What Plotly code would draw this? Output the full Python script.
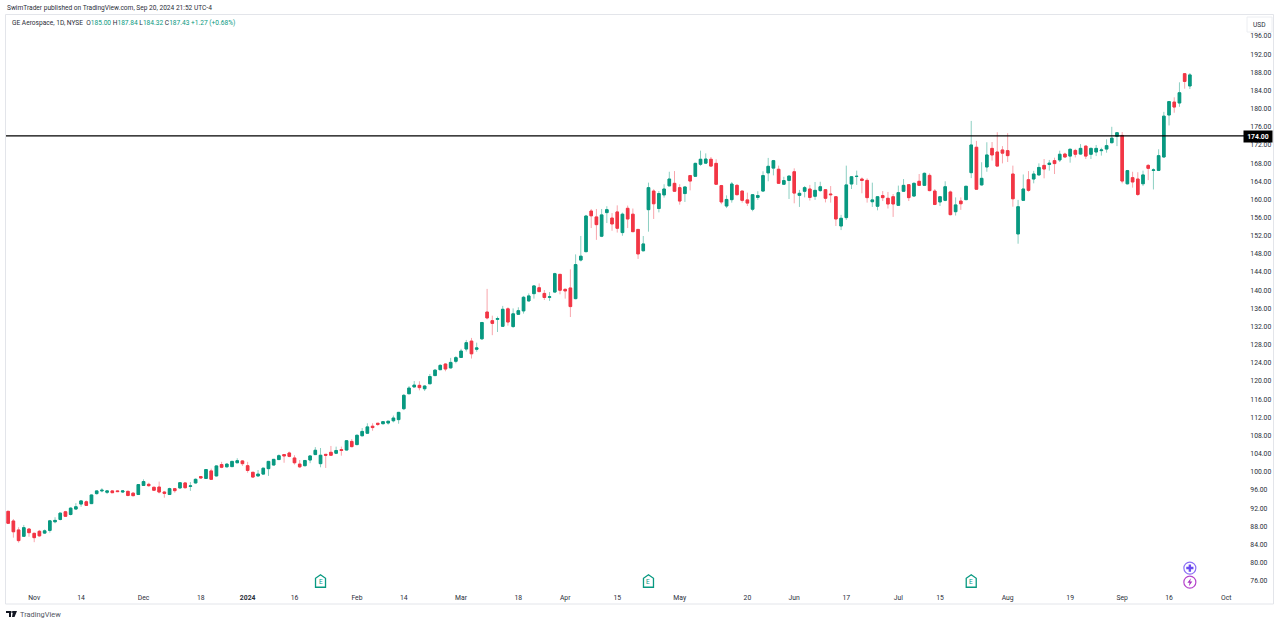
import plotly.graph_objects as go

GREEN = "#089981"
RED = "#F23645"
GREEN_WICK = "#8ccfc2"
RED_WICK = "#f8a5ac"

opens = [91.3,89.17,87.2,85.8,87.4,86.45,86.9,86.5,87.1,89,89.5,91.2,90.6,91.8,92.9,93.4,93,95.2,95.8,95.5,
 95.8,95.8,95.55,95.7,95.3,95,97,97.25,96.6,96.65,95.55,95,96.3,96.45,97.55,96.8,97.55,98.95,98.55,100.2,
 99.1,101.6,101.1,101.15,102,102.4,101.35,99.9,99.1,99.5,100.7,101.5,102.7,103.8,104.15,103.05,101.7,101.35,102.6,103.8,
 101.8,103.85,104.3,104.1,104.9,104.8,106.7,106,107.95,108.5,110.05,110.7,110.6,110.75,111.25,111.5,113.9,117.2,118.7,119.05,
 118.3,119.4,121.2,122.5,123.75,122.9,124.35,125.2,127.05,128.8,127,129.3,135.2,133.3,133.6,132.05,135.9,132,134.7,135.45,
 137.65,139.25,140.55,139.3,138.45,139.6,143.5,140.2,140.5,138.15,146.65,148.5,157.45,156.15,151.9,157.1,155.9,157.25,152.7,158.05,
 156.75,153.4,148.7,157.75,161.85,158,161,163,163.55,162.6,161.3,165.25,165.1,167.75,168,168.85,167.95,163.05,158.55,159.95,
 163.1,161.85,159.9,157.85,160.45,161.85,165.85,166.9,166.65,163.35,164.2,166.1,160.9,161.8,162.3,160.7,161.95,162.15,161.2,160.6,
 154.15,156,163.4,165.05,164.5,164.2,159.5,158.5,160.85,160.25,160.6,158.7,161.8,163.25,160.75,164,163.1,165.3,161.85,159.45,
 159.8,161.65,157.3,159.65,159.95,165.9,171.5,163.2,167.15,171.25,170.45,170.9,170.75,165.6,152.4,159.8,164.35,164.5,165.4,167.5,
 167.7,168.55,168.7,170,169.55,170.8,170,171.75,169.95,170.45,170.75,171.1,172.5,173.9,174.1,163.45,164.8,164.5,163.45,167.5,
 166.4,166.4,169.35,178.6,181.45,181.25,187.7,185]
highs = [91.4,89.6,87.8,88.3,87.6,86.6,87.2,87.3,89.4,90,91,91.4,92.2,93.1,93.8,93.7,95,95.85,96.4,95.95,
 95.95,95.9,95.95,95.85,95.55,97.3,98.35,97.6,96.7,97.85,95.8,96.5,96.45,97.75,97.75,97.75,98.55,99.05,100.6,100.7,
 101.4,102.2,101.9,102.35,103,102.6,102.2,99.95,100.4,100.9,102.4,102.8,103.85,103.9,104.45,103.65,102.6,102.6,103.65,105.45,
 105.25,103.9,105.7,105.55,105.55,107,107.2,108.2,109.65,110.7,110.7,110.75,111.2,111.2,112.4,113.2,117.15,118.9,120,119.95,
 119.05,121.55,122.6,123.7,123.9,125.1,125.5,127.1,129.05,129.5,128.45,133,140.3,134.4,134.2,136.55,136.25,136,136.25,138.75,
 139.3,141.15,141.5,140.05,139.6,143.85,143.55,140.4,144.6,147.9,151.95,156.6,157.9,157.9,157.9,158.5,157,158.7,157.1,158.65,
 158,153.4,151.95,163.7,162.25,161.85,163.35,166.1,166.25,163.35,162.8,165.4,168.1,170.75,170.15,169.35,168.85,163.2,160.9,163.85,
 163.4,161.85,161.5,161.2,161.8,166.2,169.15,168.7,167.45,165,165.2,166.85,162.1,162.95,163.2,163.85,163.9,162.25,162.95,160.75,
 156.6,167.45,165.15,166.35,164.85,164.65,163.7,160.75,161.85,161.65,161.2,163.05,164.5,163.4,163.75,165.6,165.95,165.75,162.3,160.75,
 164,161.95,160.45,160.45,162.95,177.3,172.9,168.2,172.6,172.65,174.8,171.75,174.6,167.45,159.9,165.5,166.25,166.3,167.95,168.9,
 168.7,169.2,170.75,170.3,171.2,171.15,172.2,171.9,171.45,172,171.4,173.25,176,174.85,174.85,166.5,166.1,166,166.35,167.8,
 166.85,171.05,179.3,181.7,182.5,185.8,187.85,187.84]
lows = [88.6,85.5,84.4,85.7,85.7,84.5,85.7,86.3,86.6,88.66,89.3,90.05,90.4,91.7,92.3,92.5,92.9,95,95.5,95.1,
 95.35,95.55,95.35,94.6,94.6,94.9,96.95,96.7,95.85,95.25,94.3,94.9,95.4,96.3,96.35,95.8,97.4,98.5,98.5,98.2,
 99,100.8,101,101.1,101.9,101.3,99.8,98.65,98.9,99.45,99.1,101.4,102.6,102,103.2,101.6,100.85,101.2,101.9,103.7,
 101,100.85,103.5,103.9,103.55,104.75,105.4,105.85,107.8,108.35,109.05,110.1,110.45,110.4,110.9,110.6,113.6,117.15,118.6,117.95,
 117.8,119.35,121.1,122.45,122.15,122.75,123.9,125.1,126.5,124.95,126.45,129.05,133.6,130.1,130.8,131.9,132.2,131.7,134.55,134.85,
 137.5,138.15,139.55,137.85,137.65,139.45,139.1,138.15,134.1,138,146.35,148.35,153.7,151.1,151.7,154.8,153.1,152.7,152,153.7,
 152.85,146.9,148.55,152.9,155.7,157.15,160.4,162.9,161.65,158.85,159.45,162,164.95,167.4,167.95,167.2,163.2,158.95,158.1,159.3,
 160.9,159.3,158.55,157.4,159.9,161.7,164,165.3,163.4,163.25,160.1,159.15,158.35,160.45,159.75,159.9,161.7,159.35,159.3,154.15,
 153.25,155.5,162.3,163.2,161.35,159.3,158.35,157.6,159.65,158,156.15,158.55,161.65,159.65,160.6,162.95,162.95,161.8,158.75,158.55,
 159.6,156.5,156.45,157.7,159.9,164.7,162.1,163.05,166.1,168.55,167.35,167.95,168.25,158.4,150.25,159.7,161.7,163.55,165.25,164.65,
 166.35,165.6,168.25,169.2,168.1,169.25,169.85,168.9,168.9,169.55,169.65,170.3,172.35,171.75,163.55,163.3,162.6,160.75,162.95,164.25,
 162.2,166.25,169.2,176.3,179.1,180.4,184.4,184.32]
closes = [88.66,86.8,84.85,87.7,86.6,85.5,85.9,87,89.2,89.3,90.9,90.2,92,92.3,93.6,92.6,94.9,95.8,95.95,95.8,
 95.4,95.65,95.8,94.8,94.75,97.2,97.85,96.95,95.95,95.55,95.25,96.3,95.85,97.6,96.5,96.9,98.35,98.65,100.5,98.35,
 101.3,101,101.7,102.3,102.45,101.8,100.3,98.85,99.5,100.8,102.3,102.75,103.55,103.5,103.4,102,101.1,102.5,103.5,104.75,
 103.65,103.65,103.65,104.7,104.7,106.85,105.55,108.05,108.9,109.9,109.75,110.45,111.05,111.15,111.85,113.1,116.85,118.45,119.1,118.55,
 118.9,121,122.4,123.45,122.65,124.1,125.15,126.6,128.45,126,127.3,132.9,133.9,132.7,133.75,135.8,133,134.8,135.5,138.45,
 138.75,140.95,139.7,138.4,138.55,143.65,140,139.85,136.4,145.65,147.5,156.35,156.4,154.45,156.6,157.75,154.6,153.65,156.75,155.7,
 152.9,148,150.2,162.6,159.05,161.3,162.3,164.5,161.8,159.65,162.75,164.05,167.95,168.85,168.9,167.35,163.35,159.45,160,163.4,
 161.05,159.8,159.2,161.05,160.85,165.25,167.3,168.55,163.55,164.15,165.15,161.4,161.35,162.6,160.45,162,162.8,160.25,161.05,155.7,
 155.85,163.2,165,165.1,164.2,160.4,159.9,160.6,160.4,159,159,161.5,163.1,160.4,163.55,163.1,165.75,161.95,158.9,160.6,
 162.8,156.65,158.8,159.05,162.9,172,162.25,164.65,169.8,169.8,167.35,170.2,169.65,160.15,158.4,162.3,162,165.6,167.05,166.7,
 168,167.9,169.95,169.35,171.05,169.95,171.25,169.55,171.25,171.25,170.9,171.85,173.5,174.7,164.05,166.35,163.85,161.1,165.4,166.85,
 166.5,169.65,178.35,181.55,180.35,183.5,186,187.43]

tick_positions = [5,14,26,37,46,55,67,76,87,98,107,117,129,142,151,161,171,179,192,204,214,223,234]
tick_labels = ["Nov","14","Dec","18","<b>2024</b>","16","Feb","14","Mar","18","Apr","15","May","20","Jun","17","Jul","15","Aug","19","Sep","16","Oct"]
price_ticks = list(range(76, 197, 4))
level_price = 174.0
earnings_positions = [60, 123, 185]
earnings_price = 75.9
last_index = 227

W, H = 1280, 624
ML, MR, MT, MB = 6, 36, 15, 36
PW, PH = W - ML - MR, H - MT - MB

def px(x):
    return (x - ML) / PW

def py(y):
    return (H - MB - y) / PH

idx = list(range(len(opens)))
body_hi = [max(o, c) for o, c in zip(opens, closes)]
body_lo = [min(o, c) for o, c in zip(opens, closes)]

fig = go.Figure()
fig.add_trace(go.Candlestick(
    x=idx, open=opens, high=highs, low=lows, close=closes,
    increasing=dict(line=dict(color=GREEN_WICK, width=1), fillcolor=GREEN),
    decreasing=dict(line=dict(color=RED_WICK, width=1), fillcolor=RED),
    whiskerwidth=0, showlegend=False, hoverinfo="skip"))
fig.add_trace(go.Candlestick(
    x=idx, open=opens, high=body_hi, low=body_lo, close=closes,
    increasing=dict(line=dict(color=GREEN, width=1), fillcolor=GREEN),
    decreasing=dict(line=dict(color=RED, width=1), fillcolor=RED),
    whiskerwidth=0, showlegend=False, hoverinfo="skip"))

# Corporate-event badges
fig.add_trace(go.Scatter(
    x=[last_index], y=[78.8], mode="markers",
    marker=dict(symbol="circle-open", size=12, color="#8c6ff5", line=dict(width=1.2)),
    showlegend=False, hoverinfo="skip", cliponaxis=False))
fig.add_trace(go.Scatter(
    x=[last_index], y=[78.8], mode="markers",
    marker=dict(symbol="cross", size=6, color="#6a4cf0", line=dict(width=0)),
    showlegend=False, hoverinfo="skip", cliponaxis=False))
fig.add_trace(go.Scatter(
    x=[last_index], y=[75.7], mode="markers",
    marker=dict(symbol="circle-open", size=12, color="#b545cc", line=dict(width=1.2)),
    showlegend=False, hoverinfo="skip", cliponaxis=False))

shapes = [
    dict(type="rect", xref="paper", yref="paper", x0=px(5.5), x1=px(1273.5), y0=py(604), y1=py(14.5),
         line=dict(color="#e3e5ea", width=1), layer="below"),
    dict(type="line", xref="paper", yref="y", x0=0, x1=1, y0=level_price, y1=level_price,
         line=dict(color="#000000", width=1.3)),
    dict(type="rect", xref="paper", yref="paper", x0=px(1247), x1=px(1272), y0=py(32), y1=py(17),
         line=dict(color="#eceef2", width=1), layer="below"),
    dict(type="path", xref="x", yref="y", xsizemode="pixel", ysizemode="pixel",
         xanchor=last_index, yanchor=75.7, path="M 1 4 L -2.5 -0.5 L -0.3 -0.5 L -1 -4 L 2.5 0.7 L 0.3 0.7 Z",
         fillcolor="#a832c0", line=dict(width=0)),
]
house = "M -5 -6 L 5 -6 L 5 3 L 0 6.5 L -5 3 Z"
for e in earnings_positions:
    shapes.append(dict(type="path", xref="x", yref="y", xsizemode="pixel", ysizemode="pixel",
                       xanchor=e, yanchor=earnings_price, path=house,
                       line=dict(color=GREEN, width=1.3), fillcolor="#ffffff"))

# TradingView logo
shapes.append(dict(type="path", xref="paper", yref="paper",
    path=f"M {px(6)} {py(611)} L {px(11)} {py(611)} L {px(11)} {py(617)} L {px(9)} {py(617)} L {px(9)} {py(613)} L {px(6)} {py(613)} Z",
    fillcolor="#131722", line=dict(width=0)))
shapes.append(dict(type="path", xref="paper", yref="paper",
    path=f"M {px(13)} {py(611)} L {px(17)} {py(611)} L {px(14.5)} {py(617)} L {px(12)} {py(617)} Z",
    fillcolor="#131722", line=dict(width=0)))
shapes.append(dict(type="circle", xref="paper", yref="paper", x0=px(11.3), x1=px(13), y0=py(613), y1=py(611),
    fillcolor="#131722", line=dict(width=0)))

FONT = "Roboto, Arial, sans-serif"
TEXT = "#2a2e39"
val = lambda s: f'<span style="color:{GREEN}">{s}</span>'
header = ("GE Aerospace, 1D, NYSE  O" + val("185.00") + " H" + val("187.84") + " L" + val("184.32")
          + " C" + val("187.43") + " " + val("+1.27 (+0.68%)"))

annotations = [
    dict(text="SwimTrader published on TradingView.com, Sep 20, 2024 21:52 UTC-4", x=px(5), y=py(7.5),
         xanchor="left", yanchor="middle", font=dict(size=6.6, color=TEXT)),
    dict(text=header, x=px(10), y=py(23), xanchor="left", yanchor="middle", font=dict(size=6.6, color=TEXT)),
    dict(text="USD", x=px(1259.5), y=py(25), xanchor="center", yanchor="middle", font=dict(size=6.6, color=TEXT)),
    dict(text="<b>174.00</b>", x=px(1258.5), y=py(136), xanchor="center", yanchor="middle",
         font=dict(size=6.8, color="#ffffff"), bgcolor="#000000", borderpad=1.5, width=25),
    dict(text="TradingView", x=px(17.5), y=py(614), xanchor="left", yanchor="middle", font=dict(size=7.4, color="#50535e")),
]
for a in annotations:
    a.update(xref="paper", yref="paper", showarrow=False)
for e in earnings_positions:
    annotations.append(dict(text="E", x=e, y=earnings_price, xref="x", yref="y", showarrow=False, yshift=-1,
                            font=dict(size=6.5, color=GREEN)))

fig.update_layout(
    width=W, height=H, autosize=False,
    margin=dict(l=ML, r=MR, t=MT, b=MB, pad=0),
    paper_bgcolor="#ffffff", plot_bgcolor="#ffffff",
    font=dict(family=FONT, size=7, color=TEXT),
    showlegend=False, shapes=shapes, annotations=annotations,
    xaxis=dict(type="linear", range=[-0.42, 237.4], rangeslider=dict(visible=False), showgrid=False,
               zeroline=False, showline=False, tickmode="array", tickvals=tick_positions, ticktext=tick_labels,
               ticks="outside", ticklen=3, tickcolor="rgba(0,0,0,0)", tickfont=dict(size=6.8, color=TEXT, family=FONT)),
    yaxis=dict(side="right", range=[74.41, 200.63], showgrid=False, zeroline=False, showline=False,
               tickmode="array", tickvals=price_ticks, ticktext=[f"{v:.2f}" for v in price_ticks],
               ticks="outside", ticklen=4, tickcolor="rgba(0,0,0,0)", tickfont=dict(size=6.8, color=TEXT, family=FONT)),
)

fig.write_html("out.html", config=dict(displayModeBar=False),
               post_script="document.body.style.margin='0';document.body.style.overflow='hidden';")
